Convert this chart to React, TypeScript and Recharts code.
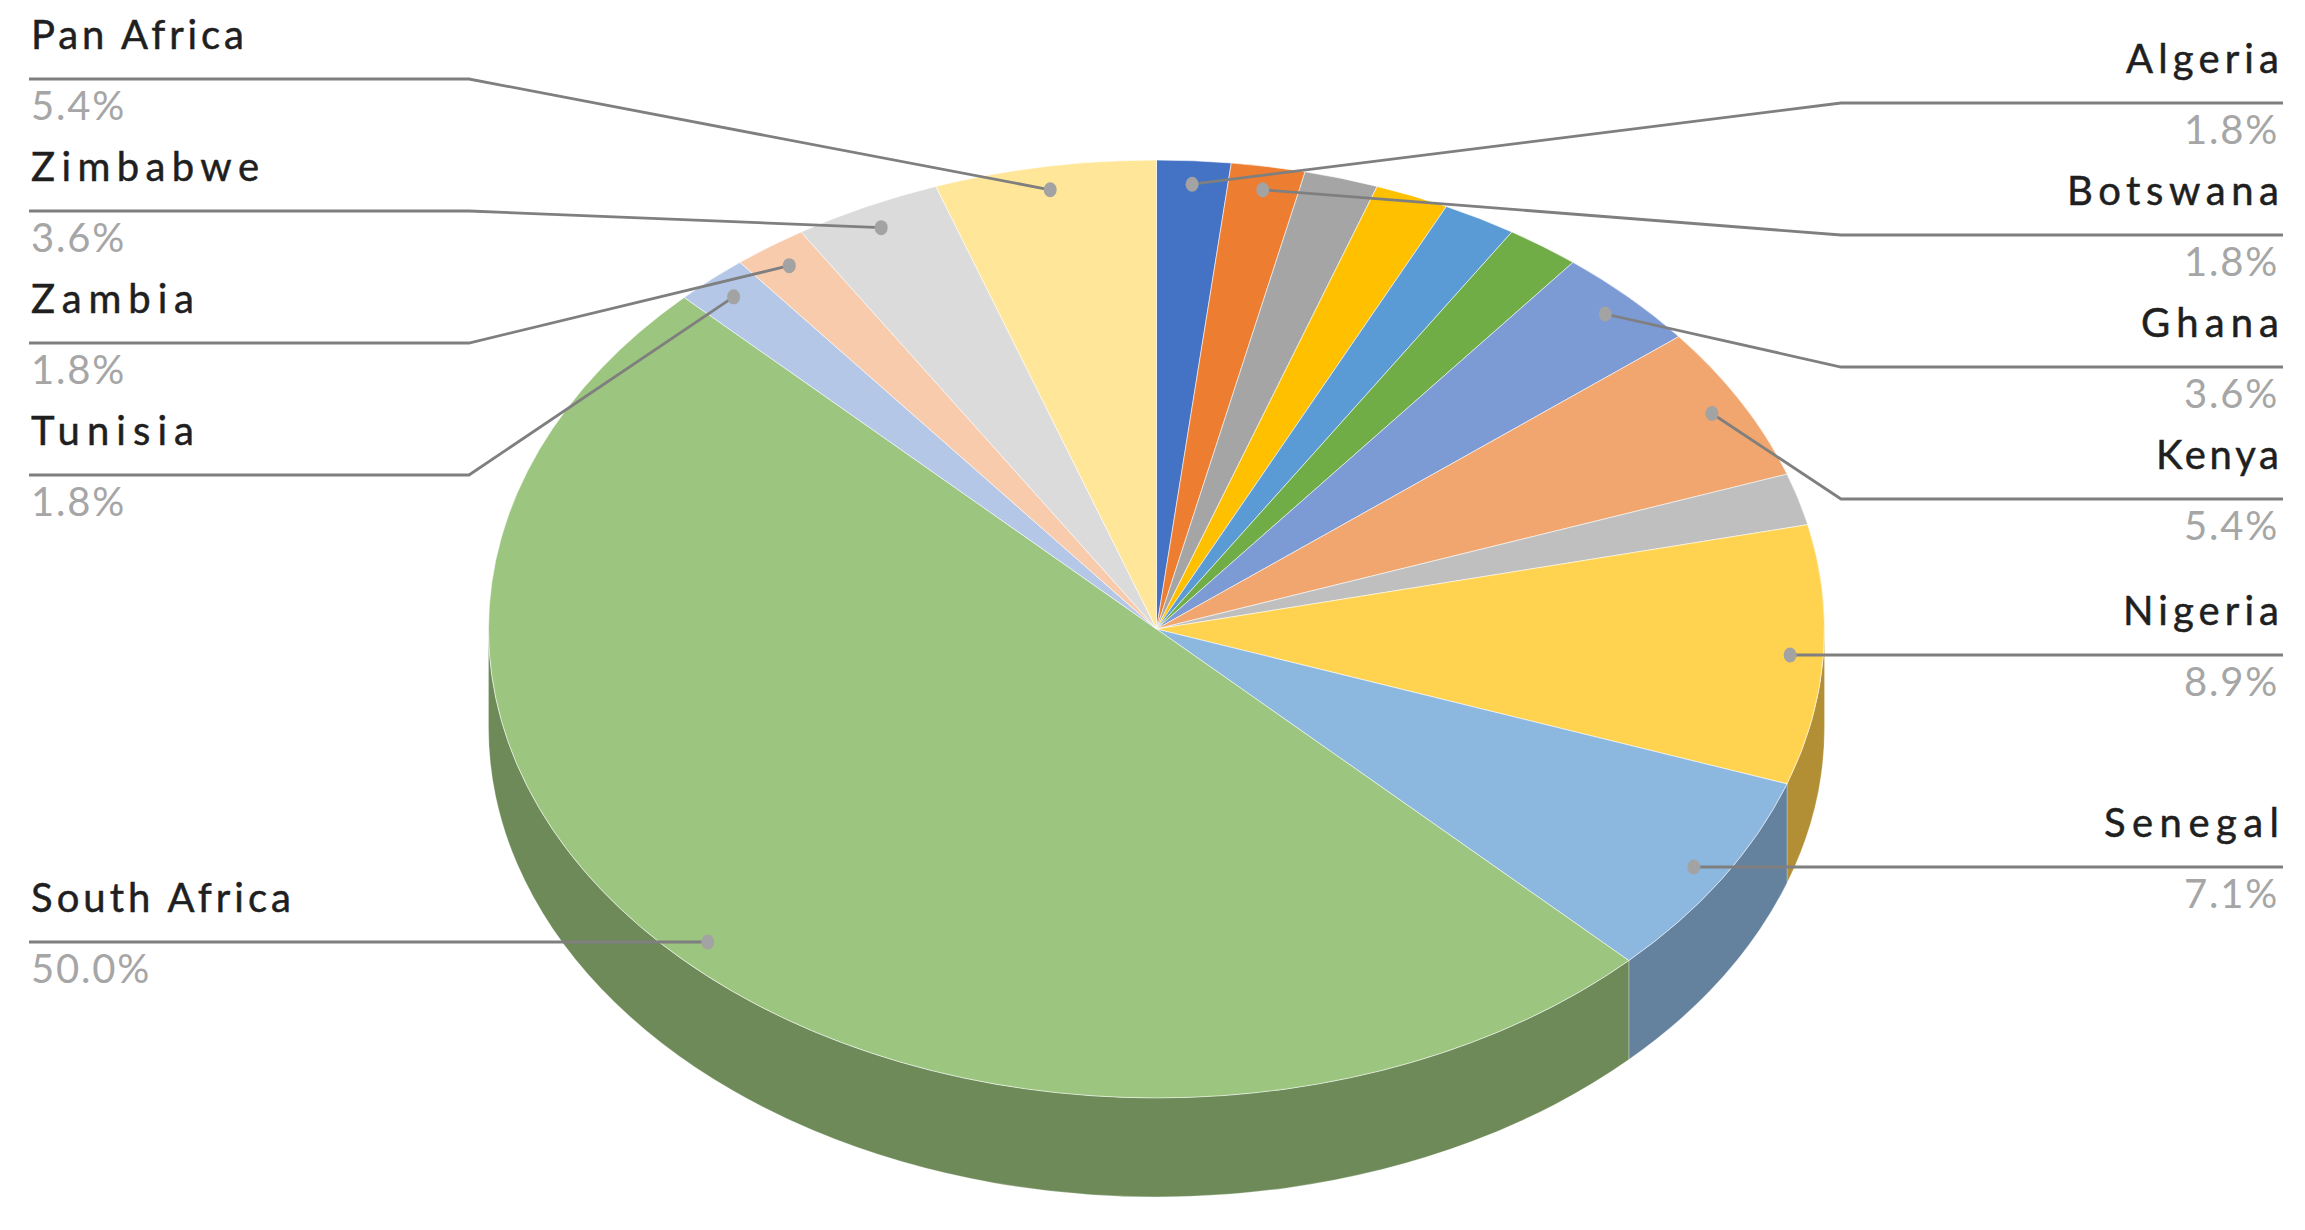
import React from "react";
import { PieChart, Pie, Cell } from "recharts";

// Slices run clockwise from 12 o'clock. Empty names are slices the reference leaves unlabelled.
// Counts out of 56: the whole numbers that reproduce the printed shares (1.8%, 3.6%, 5.4%, 7.1%, 8.9%, 50.0%).
const categories = [
  "Algeria", "Botswana", "", "", "", "", "Ghana", "Kenya", "",
  "Nigeria", "Senegal", "South Africa", "Tunisia", "Zambia", "Zimbabwe", "Pan Africa",
];
const counts = [1, 1, 1, 1, 1, 1, 2, 3, 1, 5, 4, 28, 1, 1, 2, 3];
const faceColors = [
  "#4472C4", "#ED7D31", "#A5A5A5", "#FFC000", "#5B9BD5", "#70AD47", "#7C9AD3", "#F1A66F",
  "#BFBFBF", "#FFD34F", "#8CB8E0", "#9CC57F", "#B4C7E7", "#F8CBAD", "#DBDBDB", "#FFE699",
];
const wallColors = [
  "#30508A", "#A65822", "#747474", "#B38600", "#406D95", "#4E7932", "#576C94", "#A9744E",
  "#868686", "#B28F35", "#64819E", "#6D8A58", "#7E8BA2", "#AE8E79", "#999999", "#B3A16B",
];

const rows = categories.map((name, i) => ({ name, count: counts[i] }));

// Chart geometry
const WIDTH = 2305;
const HEIGHT = 1230;
const CX = 1156.5;
const CY = 629;
const RX = 668;
const SQUASH = 0.702;
const DEPTH = 99;
const RAD = Math.PI / 180;

// Callout layout
const LEFT_END = 29;
const LEFT_ELBOW = 469;
const RIGHT_END = 2283;
const RIGHT_ELBOW = 1841;
const calloutRows: Record<string, { side: "left" | "right"; y: number; w: number; straight?: boolean }> = {
  "Pan Africa": { side: "left", y: 79, w: 213 },
  Zimbabwe: { side: "left", y: 211, w: 228 },
  Zambia: { side: "left", y: 343, w: 163 },
  Tunisia: { side: "left", y: 475, w: 163 },
  "South Africa": { side: "left", y: 942, w: 260, straight: true },
  Algeria: { side: "right", y: 103, w: 153 },
  Botswana: { side: "right", y: 235, w: 212 },
  Ghana: { side: "right", y: 367, w: 138 },
  Kenya: { side: "right", y: 499, w: 123 },
  Nigeria: { side: "right", y: 655, w: 156, straight: true },
  Senegal: { side: "right", y: 867, w: 175, straight: true },
};

const FONT = "Lato, 'Open Sans', sans-serif";

const point = (cx: number, cy: number, r: number, deg: number) => ({
  x: cx + r * Math.cos(deg * RAD),
  y: cy - r * SQUASH * Math.sin(deg * RAD),
});

function TopFace(props: any) {
  const { cx, cy, outerRadius: r, startAngle, endAngle, fill } = props;
  const a = point(cx, cy, r, startAngle);
  const b = point(cx, cy, r, endAngle);
  const large = Math.abs(startAngle - endAngle) > 180 ? 1 : 0;
  const d = `M${cx},${cy}L${a.x},${a.y}A${r},${r * SQUASH} 0 ${large} 1 ${b.x},${b.y}Z`;
  return <path d={d} fill={fill} stroke="#ffffff" strokeOpacity={0.55} strokeWidth={1} />;
}

function SideWall(props: any) {
  const { cx, cy, outerRadius: r, startAngle, endAngle, fill } = props;
  const hi = Math.min(startAngle, 0);
  const lo = Math.max(endAngle, -180);
  if (lo >= hi) return <g />;
  const a = point(cx, cy, r, hi);
  const b = point(cx, cy, r, lo);
  const ry = r * SQUASH;
  const d =
    `M${a.x},${a.y}A${r},${ry} 0 0 1 ${b.x},${b.y}` +
    `L${b.x},${b.y + DEPTH}A${r},${ry} 0 0 0 ${a.x},${a.y + DEPTH}Z`;
  return <path d={d} fill={fill} stroke="#ffffff" strokeOpacity={0.25} strokeWidth={1} />;
}

function Callout(props: any) {
  const { cx, cy, outerRadius: r, midAngle, name, percent } = props;
  const row = calloutRows[name];
  if (!row) return <g />;
  const dot = point(cx, cy, r * 0.95, midAngle);
  const left = row.side === "left";
  const end = left ? LEFT_END : RIGHT_END;
  const elbow = left ? LEFT_ELBOW : RIGHT_ELBOW;
  const pts = row.straight
    ? `${dot.x},${row.y} ${end},${row.y}`
    : `${dot.x},${dot.y} ${elbow},${row.y} ${end},${row.y}`;
  const textX = left ? LEFT_END + 2 : RIGHT_END - 4;
  const anchor = left ? "start" : "end";
  return (
    <g>
      <polyline points={pts} fill="none" stroke="#7f7f7f" strokeWidth={2.8} />
      <ellipse cx={dot.x} cy={row.straight ? row.y : dot.y} rx={6.5} ry={7.5} fill="#a3a3a3" />
      <text x={textX} y={row.y - 30} textAnchor={anchor} fontFamily={FONT} fontSize={40}
        textLength={row.w} lengthAdjust="spacing" fill="#1f1f1f" stroke="#1f1f1f" strokeWidth={0.5}>{name}</text>
      <text x={textX} y={row.y + 41} textAnchor={anchor} fontFamily={FONT} fontSize={40}
        letterSpacing={1.8} fontWeight={400} fill="#a6a6a6">{`${(percent * 100).toFixed(1)}%`}</text>
    </g>
  );
}

export default function App() {
  return (
    <div style={{ position: "absolute", left: 0, top: 0, width: WIDTH, height: HEIGHT, background: "#fff" }}>
      <PieChart width={WIDTH} height={HEIGHT} margin={{ top: 0, right: 0, bottom: 0, left: 0 }}>
        <Pie data={rows} dataKey="count" nameKey="name" cx={CX} cy={CY} outerRadius={RX} innerRadius={0}
          startAngle={90} endAngle={-270} isAnimationActive={false} shape={SideWall} label={false} labelLine={false}>
          {wallColors.map((c, i) => <Cell key={i} fill={c} />)}
        </Pie>
        <Pie data={rows} dataKey="count" nameKey="name" cx={CX} cy={CY} outerRadius={RX} innerRadius={0}
          startAngle={90} endAngle={-270} isAnimationActive={false} shape={TopFace} label={Callout} labelLine={false}>
          {faceColors.map((c, i) => <Cell key={i} fill={c} />)}
        </Pie>
      </PieChart>
    </div>
  );
}
